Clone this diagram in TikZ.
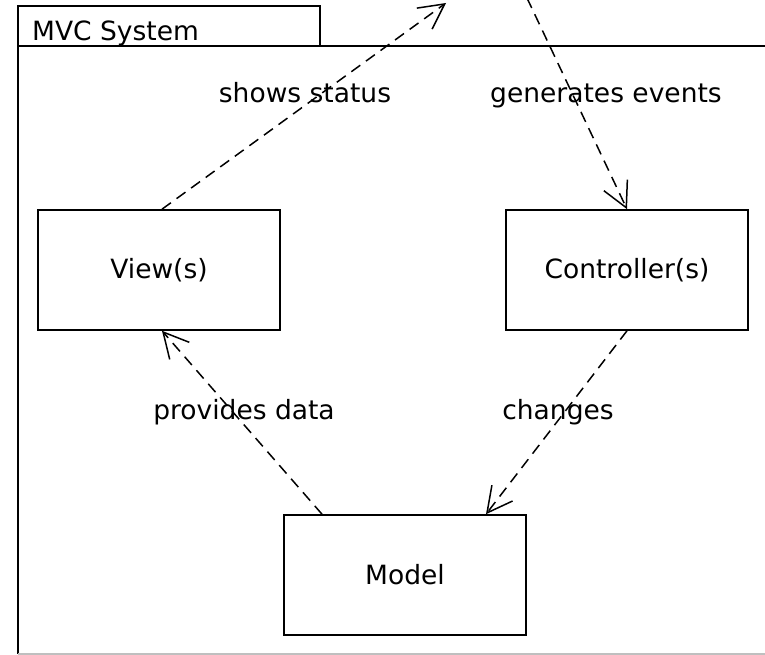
\documentclass[tikz,border=0pt]{standalone}
\usepackage{fontspec}
\setmainfont{DejaVu Sans}
\usetikzlibrary{arrows.meta}
\begin{document}
\begin{tikzpicture}[x=1pt,y=-1pt,
  every node/.style={font=\fontsize{26.5}{30}\selectfont, inner sep=0pt},
  frameline/.style={line width=1.6pt},
  classbox/.style={draw, line width=1.6pt, minimum width=242pt, minimum height=120pt},
  deplabel/.style={anchor=base},
  dep/.style={line width=1.5pt, dash pattern=on 11pt off 7pt,
              -{Straight Barb[length=25pt,width=26pt,line width=1.5pt]}}]
\useasboundingbox (0,0) rectangle (765,655);

% package frame with its name tab
\draw[frameline] (18,6) rectangle (320,46);
\draw[frameline] (780,46) -- (18,46) -- (18,654);
\draw[line width=1.2pt, black!25] (18,654) -- (780,654);
\node[anchor=base west] (title) at (32,41) {MVC System};

% classes
\node[classbox] (view) at (159,270) {View(s)};
\node[classbox] (ctrl) at (627,270) {Controller(s)};
\node[classbox] (model) at (405,575) {Model};

% ends of the dependencies that leave the package
\coordinate (user) at (446,3);
\coordinate (input) at (527,-2);

% dependencies
\draw[dep] ([xshift=3pt]view.north) -- (user);
\draw[dep] (input) -- (ctrl.north);
\draw[dep] (ctrl.south) -- ([xshift=81pt]model.north);
\draw[dep] ([xshift=-83pt]model.north) -- ([xshift=3pt]view.south);

% labels
\node[deplabel] (lshow) at (305,103) {shows status};
\node[deplabel] (lgen) at (606,103) {generates events};
\node[deplabel] (lprov) at (244,419) {provides data};
\node[deplabel] (lchg) at (558,419) {changes};
\end{tikzpicture}
\end{document}
